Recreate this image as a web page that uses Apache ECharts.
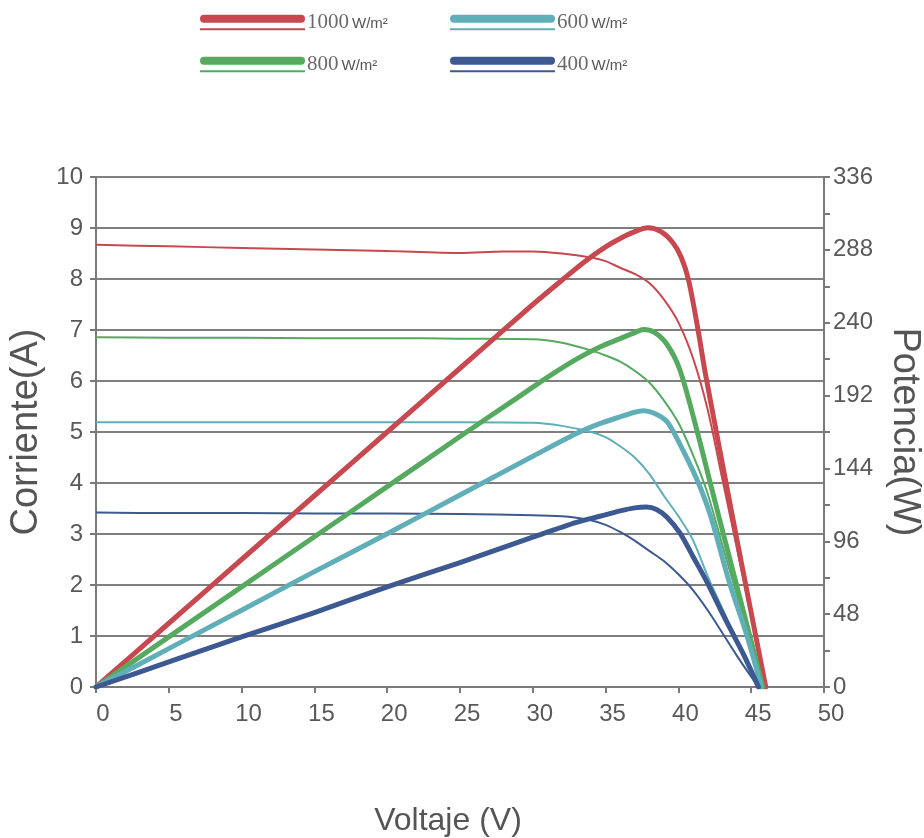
<!DOCTYPE html>
<html>
<head>
<meta charset="utf-8">
<script src="https://cdn.jsdelivr.net/npm/echarts@6/dist/echarts.min.js"></script>
<style>html,body{margin:0;padding:0;background:#fff}#c{width:924px;height:838px}</style>
</head>
<body>
<div id="c"></div>
<script>
// ---- data ----
const irradiance = ['1000', '800', '600', '400'];
const xTicks = [0, 5, 10, 15, 20, 25, 30, 35, 40, 45, 50];

// Current (A) vs voltage (V)
const cur1000V = [0,5,10,15,20,25,28,30,32,34,35,36,37,38,39,40,41,42,43,44,45,46];
const cur1000  = [8.67,8.64,8.61,8.58,8.55,8.51,8.54,8.54,8.5,8.42,8.35,8.22,8.1,7.92,7.6,7.15,6.45,5.45,4.1,2.75,1.38,0];
const cur800V  = [0,5,10,15,20,25,30,32,34,35,36,37,38,39,40,41,42,43,44,45,45.8];
const cur800   = [6.86,6.85,6.85,6.84,6.84,6.83,6.82,6.75,6.6,6.5,6.38,6.2,5.97,5.62,5.18,4.55,3.8,2.8,1.82,0.82,0];
const cur600V  = [0,5,10,15,20,25,30,32,34,35,36,37,38,39,40,41,42,43,44,45,45.7];
const cur600   = [5.19,5.19,5.19,5.19,5.19,5.19,5.18,5.12,5.0,4.9,4.72,4.5,4.18,3.75,3.35,2.88,2.18,1.55,0.92,0.35,0];
const cur400V  = [0,5,10,15,20,25,30,32,33,34,35,36,37,38,39,40,41,42,43,44,45,45.5];
const cur400   = [3.42,3.41,3.41,3.4,3.4,3.39,3.37,3.35,3.32,3.27,3.18,3.04,2.87,2.67,2.47,2.21,1.9,1.51,1.07,0.62,0.2,0];

// Power (W) vs voltage (V)
const pow1000V = [0,5,10,15,20,25,30,32,33.6,35,36,37,37.9,38.8,39.6,40.2,40.7,41.3,41.9,43.9,46];
const pow1000  = [0,42,84,126,168,210,252,268,280.5,290,295.5,300,302.5,300,293,283,268,238,204,103,0];
const pow800V  = [0,5,10,15,20,25,29,31,33,34.6,36,37,37.6,38.3,39.2,40.1,41.3,42.2,43,44,45,45.8];
const pow800   = [0,33,66,99,132,165,191,204,216,224,229.5,233.5,235.5,234,226,209,168,134,104,67,30,0];
const pow600V  = [0,5,10,15,20,25,30,33,34.6,36,37,37.6,38.3,39.2,40.1,41.3,42.2,43.5,44.7,45.7];
const pow600   = [0,25.3,50.6,76,101,126.5,152,167,173.5,178,181,182,180.5,175,160,136,113,69,34,0];
const pow400V  = [0,5,10,15,20,25,30,33,34.6,36,37,37.8,38.5,39.2,40.1,41,42,43,43.8,44.5,45.5];
const pow400   = [0,16.5,33,49,66,82,98.7,108.5,112.5,116,118,118.6,117,112,101.5,86,68.5,49,34,21,0];

const colors = {'1000':'#C7484F','800':'#55AA5F','600':'#60AFB8','400':'#3D5992'};

function pairs(xs, ys){ return xs.map((x,i)=>[x, ys[i]]); }

const curves = [
  ['1000', cur1000V, cur1000, pow1000V, pow1000],
  ['800',  cur800V,  cur800,  pow800V,  pow800],
  ['600',  cur600V,  cur600,  pow600V,  pow600],
  ['400',  cur400V,  cur400,  pow400V,  pow400]
];

const series = [];
curves.forEach(([name, cv, c, pv, p]) => {
  series.push({
    name: name, type: 'line', yAxisIndex: 0, data: pairs(cv, c),
    showSymbol: false, symbol: 'none', smooth: 0.3,
    lineStyle: {color: colors[name], width: 2}, itemStyle: {color: colors[name]}, z: 3
  });
});
curves.forEach(([name, cv, c, pv, p]) => {
  series.push({
    name: name, type: 'line', yAxisIndex: 1, data: pairs(pv, p),
    showSymbol: false, symbol: 'none', smooth: 0.3,
    lineStyle: {color: colors[name], width: 5, cap: 'round', join: 'round'}, itemStyle: {color: colors[name]}, z: 4
  });
});

const iconPath = 'path://M4,0 H101 A4,4 0 0 1 101,8 H4 A4,4 0 0 1 4,0 Z M0,13.5 H105 V15.5 H0 Z';
function mkLegend(name, left, top){
  return {
    data: [name], left: left, top: top, icon: iconPath,
    itemWidth: 105, itemHeight: 15.5, itemGap: 0,
    itemStyle: {borderWidth: 0},
    selectedMode: false,
    formatter: n => '{a|' + n + '}{b|W/m²}',
    textStyle: {
      padding: [0,0,0,-3],
      rich: {
        a: {fontFamily: 'Liberation Serif', fontSize: 21, color: '#6a6a6a'},
        b: {fontFamily: 'Liberation Sans', fontSize: 15, color: '#555', padding: [3,0,0,3]}
      }
    }
  };
}

const axisGray = '#7a7a7a';
const labelStyle = {fontFamily: 'Liberation Sans', fontSize: 24, color: '#595959'};
const hTitleStyle = {fontFamily: 'Liberation Sans', fontSize: 32, color: '#555'};
const vTitleStyle = {fontFamily: 'Liberation Sans', fontSize: 38, color: '#555'};

const chart = echarts.init(document.getElementById('c'), null, {renderer: 'canvas'});
chart.setOption({
  animation: false,
  backgroundColor: '#fff',
  legend: [
    mkLegend('1000', 195, 7),
    mkLegend('600', 445, 7),
    mkLegend('800', 195, 49),
    mkLegend('400', 445, 49)
  ],
  grid: {left: 96, right: 100, top: 177, bottom: 151, containLabel: false, outerBoundsMode: 'none'},
  xAxis: {
    type: 'value', min: xTicks[0], max: xTicks[xTicks.length-1], interval: 5,
    name: 'Voltaje (V)', nameLocation: 'middle', nameGap: 118,
    nameTextStyle: Object.assign({}, hTitleStyle, {padding: [0, 24, 0, 0]}),
    axisLine: {show: true, lineStyle: {color: axisGray, width: 2}},
    axisTick: {show: true, length: 6, lineStyle: {color: axisGray, width: 2}},
    axisLabel: Object.assign({}, labelStyle, {margin: 15, padding: [0, 0, 0, 14]}),
    splitLine: {show: false}
  },
  yAxis: [
    {
      type: 'value', min: 0, max: 10, interval: 1, position: 'left',
      name: 'Corriente(A)', nameLocation: 'middle', nameGap: 39, nameTextStyle: vTitleStyle,
      axisLine: {show: true, lineStyle: {color: axisGray, width: 2}},
      axisTick: {show: true, length: 6, lineStyle: {color: axisGray, width: 2}},
      axisLabel: Object.assign({}, labelStyle, {margin: 13}),
      splitLine: {show: true, lineStyle: {color: '#7f7f7f', width: 2}}
    },
    {
      type: 'value', min: 0, max: 336, interval: 24, position: 'right',
      name: 'Potencia(W)', nameLocation: 'middle', nameGap: 61, nameRotate: -90, nameTextStyle: vTitleStyle,
      axisLine: {show: true, lineStyle: {color: axisGray, width: 2}},
      axisTick: {show: true, length: 6, lineStyle: {color: axisGray, width: 2}},
      axisLabel: Object.assign({}, labelStyle, {margin: 9, formatter: v => (v % 48 === 0 ? String(v) : '')}),
      splitLine: {show: false}
    }
  ],
  series: series
});
</script>
</body>
</html>
